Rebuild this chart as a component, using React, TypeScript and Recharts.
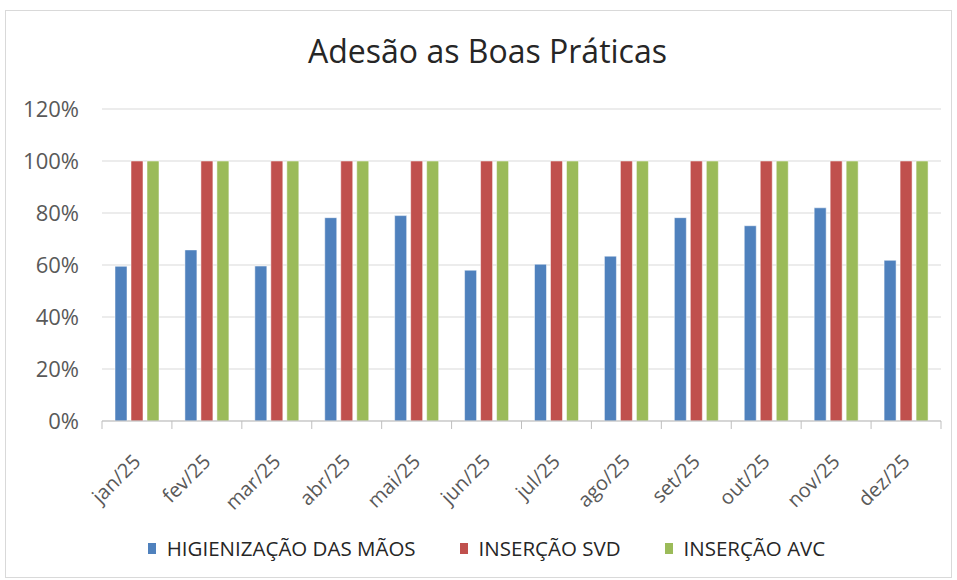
import { BarChart, Bar, XAxis, YAxis, CartesianGrid, Legend } from 'recharts';

const months = ['jan/25', 'fev/25', 'mar/25', 'abr/25', 'mai/25', 'jun/25', 'jul/25', 'ago/25', 'set/25', 'out/25', 'nov/25', 'dez/25'];
const maos = [0.595, 0.658, 0.596, 0.782, 0.79, 0.58, 0.603, 0.634, 0.782, 0.751, 0.82, 0.618];
const svd = [1, 1, 1, 1, 1, 1, 1, 1, 1, 1, 1, 1];
const avc = [1, 1, 1, 1, 1, 1, 1, 1, 1, 1, 1, 1];
const seriesNames = ['HIGIENIZAÇÃO DAS MÃOS', 'INSERÇÃO SVD', 'INSERÇÃO AVC'];
const yTicks = [0, 0.2, 0.4, 0.6, 0.8, 1.0, 1.2];
const boundaryTicks = [0, 1, 2, 3, 4, 5, 6, 7, 8, 9, 10, 11, 12];

const BLUE = '#4F81BD';
const RED = '#C0504D';
const GREEN = '#9BBB59';
const FONT = '"Open Sans", Lato, sans-serif';

const chartData = months.map((m, i) => ({
  month: m,
  maos: maos[i],
  svd: svd[i],
  avc: avc[i],
  pos: i + 0.5,
}));

// rotated month labels, Excel style
const MonthTick = ({ x, y, payload }: any) => (
  <g transform={`translate(${x + 5},${y + 33})`}>
    <text textAnchor="end" transform="rotate(-45)" fontSize={20} fill="#595959" fontFamily={FONT}>
      {payload.value}
    </text>
  </g>
);

const LegendContent = ({ payload }: any) => {
  const items = [...(payload || [])].sort(
    (a: any, b: any) => seriesNames.indexOf(a.value) - seriesNames.indexOf(b.value)
  );
  return (
    <div style={{ display: 'flex', justifyContent: 'center', fontFamily: FONT, fontSize: 20.5, color: '#262626', marginLeft: 12 }}>
      {items.map((p: any, i: number) => (
        <div key={i} style={{ display: 'flex', alignItems: 'center', marginRight: i < items.length - 1 ? 44 : 0 }}>
          <span style={{ display: 'inline-block', width: 8, height: 11, background: p.color, marginRight: 11 }} />
          <span>{p.value}</span>
        </div>
      ))}
    </div>
  );
};

export default function App() {
  return (
    <div style={{ position: 'fixed', left: 0, top: 0, width: 957, height: 580, background: '#fff' }}>
      {/* chart frame */}
      <div style={{ position: 'absolute', left: 5, top: 10, width: 945, height: 566, border: '1px solid #d9d9d9' }} />
      <div
        style={{
          position: 'absolute', top: 29, left: 0, width: 975, textAlign: 'center',
          fontFamily: FONT, fontSize: 32, color: '#262626',
        }}
      >
        Adesão as Boas Práticas
      </div>
      <div style={{ position: 'absolute', left: 0, top: 0 }}>
        <BarChart
          width={957}
          height={580}
          data={chartData}
          margin={{ top: 109, right: 16, left: 20, bottom: 18 }}
          barGap={4}
          barSize={12}
        >
          <CartesianGrid vertical={false} stroke="#d9d9d9" />
          <XAxis
            xAxisId={0}
            type="number"
            dataKey="pos"
            domain={[0, 12]}
            ticks={boundaryTicks}
            tickFormatter={() => ''}
            height={1}
            stroke="#bfbfbf"
            tickSize={8}
            allowDataOverflow
          />
          <XAxis
            xAxisId={1}
            dataKey="month"
            interval={0}
            axisLine={false}
            tickLine={false}
            tick={<MonthTick />}
            height={112}
          />
          <YAxis
            domain={[0, 1.2]}
            ticks={yTicks}
            tickFormatter={(v: number) => `${Math.round(v * 100)}%`}
            axisLine={false}
            tickLine={false}
            width={82}
            tick={{ fontSize: 22, fill: '#595959', fontFamily: FONT }}
            tickMargin={17}
          />
          <Legend verticalAlign="bottom" content={<LegendContent />} />
          <Bar xAxisId={1} dataKey="maos" name={seriesNames[0]} fill={BLUE} stroke="#fff" strokeOpacity={0.5} isAnimationActive={false} />
          <Bar xAxisId={1} dataKey="svd" name={seriesNames[1]} fill={RED} stroke="#fff" strokeOpacity={0.5} isAnimationActive={false} />
          <Bar xAxisId={1} dataKey="avc" name={seriesNames[2]} fill={GREEN} stroke="#fff" strokeOpacity={0.5} isAnimationActive={false} />
        </BarChart>
      </div>
    </div>
  );
}
